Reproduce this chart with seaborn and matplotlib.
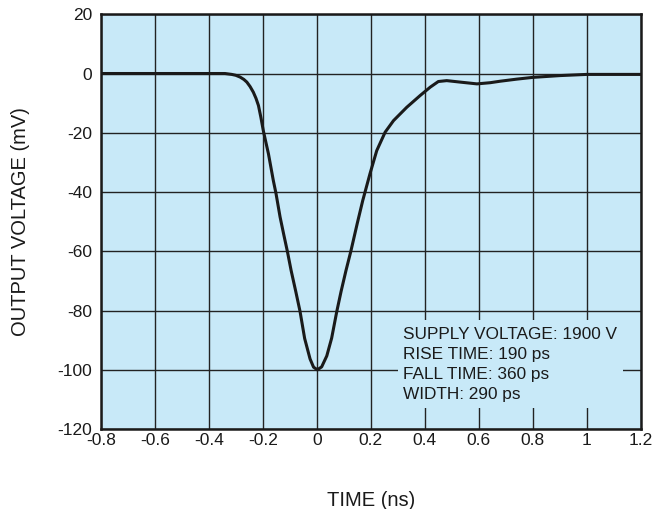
import matplotlib
matplotlib.use("Agg")
import matplotlib.pyplot as plt
from matplotlib.patches import Rectangle
import seaborn as sns
import pandas as pd

# waveform
time_ns = [-0.8, -0.6, -0.4, -0.34, -0.315, -0.3, -0.284, -0.27, -0.259, -0.247, -0.235,
           -0.225, -0.216, -0.207, -0.198, -0.189, -0.179, -0.17, -0.161, -0.151, -0.136,
           -0.122, -0.109, -0.095, -0.078, -0.062, -0.045, -0.025, -0.012, 0.002, 0.018,
           0.037, 0.055, 0.074, 0.09, 0.108, 0.126, 0.15, 0.17, 0.197, 0.222, 0.253,
           0.284, 0.333, 0.383, 0.42, 0.45, 0.481, 0.531, 0.593, 0.642, 0.679, 0.74,
           0.8, 0.9, 1.0, 1.1, 1.2]
voltage_mv = [0, 0, 0, 0, -0.3, -0.6, -1.2, -2.0, -2.9, -4.4, -6.3,
              -8.4, -10.8, -14.8, -19.3, -23.0, -27.1, -31.6, -36.1, -40.5, -48.4,
              -54.5, -60.0, -66.5, -73.5, -80.3, -89.4, -96.3, -99.1, -100.0, -99.0,
              -95.3, -89.3, -80.3, -73.5, -66.5, -60.0, -50.5, -42.9, -33.8, -26.0, -19.8,
              -15.9, -11.4, -7.4, -4.6, -2.7, -2.4, -2.9, -3.5, -3.1, -2.6, -1.9,
              -1.3, -0.7, -0.3, -0.3, -0.3]

x_ticks = [-0.8, -0.6, -0.4, -0.2, 0, 0.2, 0.4, 0.6, 0.8, 1, 1.2]
x_labels = ["-0.8", "-0.6", "-0.4", "-0.2", "0", "0.2", "0.4", "0.6", "0.8", "1", "1.2"]
y_ticks = [20, 0, -20, -40, -60, -80, -100, -120]

notes = ["SUPPLY VOLTAGE: 1900 V", "RISE TIME: 190 ps", "FALL TIME: 360 ps", "WIDTH: 290 ps"]

df = pd.DataFrame({"time": time_ns, "voltage": voltage_mv})

sns.set_style("ticks")
plt.rcParams["font.family"] = ["Liberation Sans", "DejaVu Sans"]
plt.rcParams["axes.unicode_minus"] = False

bg = "#C8E9F8"
ink = "#1a1a1a"
fig = plt.figure(figsize=(6.54, 5.09), dpi=100)
ax = fig.add_axes([0.154, 0.157, 0.826, 0.815])
ax.set_facecolor(bg)
ax.set_axisbelow(True)

sns.lineplot(data=df, x="time", y="voltage", ax=ax, color=ink, linewidth=2.2, zorder=3,
             solid_joinstyle="round", solid_capstyle="round")

ax.set_xlim(-0.8, 1.2)
ax.set_ylim(-120, 20)
ax.set_xticks(x_ticks)
ax.set_xticklabels(x_labels)
ax.set_yticks(y_ticks)
ax.tick_params(length=0, labelsize=12.5, colors=ink)
ax.tick_params(axis="x", pad=3)
ax.tick_params(axis="y", pad=6)
ax.grid(True, color="#222222", linewidth=1.0)
for s in ax.spines.values():
    s.set_linewidth(1.8)
    s.set_color(ink)

# box behind the notes hides the grid
ax.add_patch(Rectangle((0.30, -113), 0.835, 29.7, facecolor=bg, edgecolor="none", zorder=1))
ax.text(0.318, -85.6, "\n".join(notes), fontsize=12.4, va="top", ha="left",
        linespacing=1.4, color=ink, zorder=4)

ax.set_xlabel("TIME (ns)", fontsize=14.5, labelpad=31, color=ink)
ax.set_ylabel("OUTPUT VOLTAGE (mV)", fontsize=14.5, labelpad=20, color=ink)

fig.savefig("out.png", dpi=100)
